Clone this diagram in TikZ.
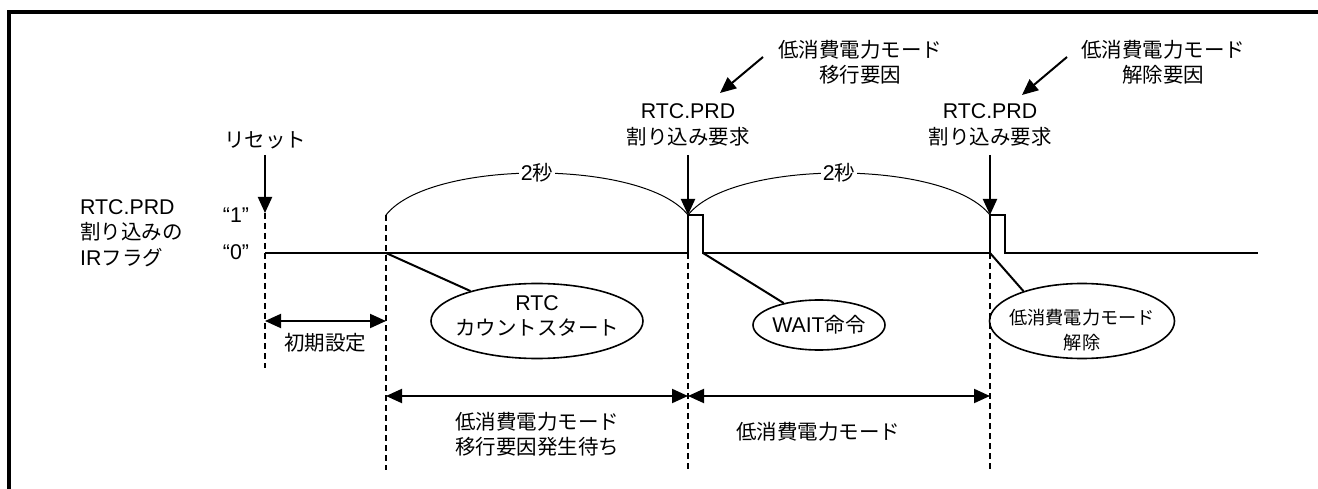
\documentclass[tikz,border=0pt]{standalone}
\usepackage{fontspec}
\setmainfont{Liberation Sans}[Scale=1.04]
\newfontfamily\jp{Noto Sans CJK JP}
\usetikzlibrary{arrows.meta,shapes.geometric}
\begin{document}
\begin{tikzpicture}[x=1pt,y=-1pt,
  every node/.style={font=\fontsize{20.5}{25.5}\selectfont, inner sep=0pt},
  tip/.style={line width=2pt,-{Triangle[length=16pt,width=14pt]}},
  dtip/.style={line width=2pt,{Triangle[length=16pt,width=14pt]}-{Triangle[length=16pt,width=14pt]}},
  sig/.style={line width=2pt},
  guide/.style={line width=1.6pt, dash pattern=on 6pt off 4pt},
  arcline/.style={line width=1pt},
  bubble/.style={draw, ellipse, line width=1.6pt, inner sep=0pt},
  secs/.style={fill=white, inner xsep=2pt, inner ysep=1pt},
]
\useasboundingbox (0,0) rectangle (1318,489);
% frame
\draw[line width=3.5pt] (9,489) -- (9,12) -- (1318,12);

% key coordinates
\coordinate (r1) at (265,213);
\coordinate (r0) at (265,253);
\coordinate (s1) at (386,215);
\coordinate (s0) at (386,253);
\coordinate (p1) at (688,215);
\coordinate (p0) at (688,253);
\coordinate (p1b) at (703,253);
\coordinate (q1) at (990,215);
\coordinate (q0) at (990,253);
\coordinate (endsig) at (1258,253);

% texts
\node (reset) at (265,140) {\jp リセット};
\node (one) at (236,215) {“1”};
\node (zero) at (236,252) {“0”};
\node[anchor=west, align=left] (irf) at (80,233) {RTC.PRD\\{\jp 割り込みの}\\IR{\jp フラグ}};
\node[align=center] (rq1) at (688,125) {RTC.PRD\\{\jp 割り込み要求}};
\node[align=center] (rq2) at (990,125) {RTC.PRD\\{\jp 割り込み要求}};
\node[align=center] (f1) at (860,62) {\jp 低消費電力モード\\\jp 移行要因};
\node[align=center] (f2) at (1163,62) {\jp 低消費電力モード\\\jp 解除要因};

% vertical arrows
\coordinate (a0) at (265,155);
\coordinate (a1) at (688,155);
\coordinate (a2) at (990,155);
\draw[tip] (a0) -- (r1);
\draw[tip] (a1) -- (p1);
\draw[tip] (a2) -- (q1);

% diagonal arrows
\coordinate (d1s) at (763,57);
\coordinate (d1e) at (720,93);
\coordinate (d2s) at (1067,57);
\coordinate (d2e) at (1022,95);
\draw[tip] (d1s) -- (d1e);
\draw[tip] (d2s) -- (d2e);

% dashed guides
\coordinate (g0) at (265,368);
\coordinate (g1) at (386,470);
\coordinate (g2) at (688,470);
\coordinate (g3) at (990,470);
\draw[guide] (r1) -- (g0);
\draw[guide] (s1) -- (g1);
\draw[guide] (p0) -- (g2);
\draw[guide] (q0) -- (g3);

% signal
\draw[sig] (r0) -- (p0) -- (p1) -- (703,215) -- (p1b) -- (q0) -- (q1) -- (1005,215) -- (1005,253) -- (endsig);

% 2 second arcs
\draw[arcline] (s1) .. controls (430,159) and (644,159) .. node[secs] (sec1) {2{\jp 秒}} (p1);
\draw[arcline] (p1) .. controls (732,159) and (946,159) .. node[secs] (sec2) {2{\jp 秒}} (q1);

% bubbles
\node[bubble, minimum width=212pt, minimum height=75pt] (e1) at (537,321) {};
\node[align=center] (e1t) at (537,316) {RTC\\{\jp カウントスタート}};
\node[bubble, minimum width=132pt, minimum height=50pt] (e2) at (819,325) {};
\node (e2t) at (819,325) {WAIT{\jp 命令}};
\node[bubble, minimum width=185pt, minimum height=75pt] (e3) at (1082,321) {};
\node[align=center, font=\fontsize{18.2}{24.5}\selectfont] (e3t) at (1082,330) {\jp 低消費電力モード\\\jp 解除};

\draw[line width=2pt] (s0) -- (e1);
\draw[line width=2pt] (p1b) -- (e2);
\draw[line width=2pt] (q0) -- (e3.153);

% duration arrows
\coordinate (i0) at (265,321);
\coordinate (i1) at (386,321);
\draw[dtip] (i0) -- (i1);
\node (init) at (325,343) {\jp 初期設定};

\coordinate (b0) at (386,396);
\coordinate (b1) at (688,396);
\coordinate (b2) at (990,396);
\draw[dtip] (b0) -- (b1);
\draw[dtip] (b1) -- (b2);
\node[align=center] (w1) at (537,434) {\jp 低消費電力モード\\\jp 移行要因発生待ち};
\node (w2) at (818,432) {\jp 低消費電力モード};
\end{tikzpicture}
\end{document}
